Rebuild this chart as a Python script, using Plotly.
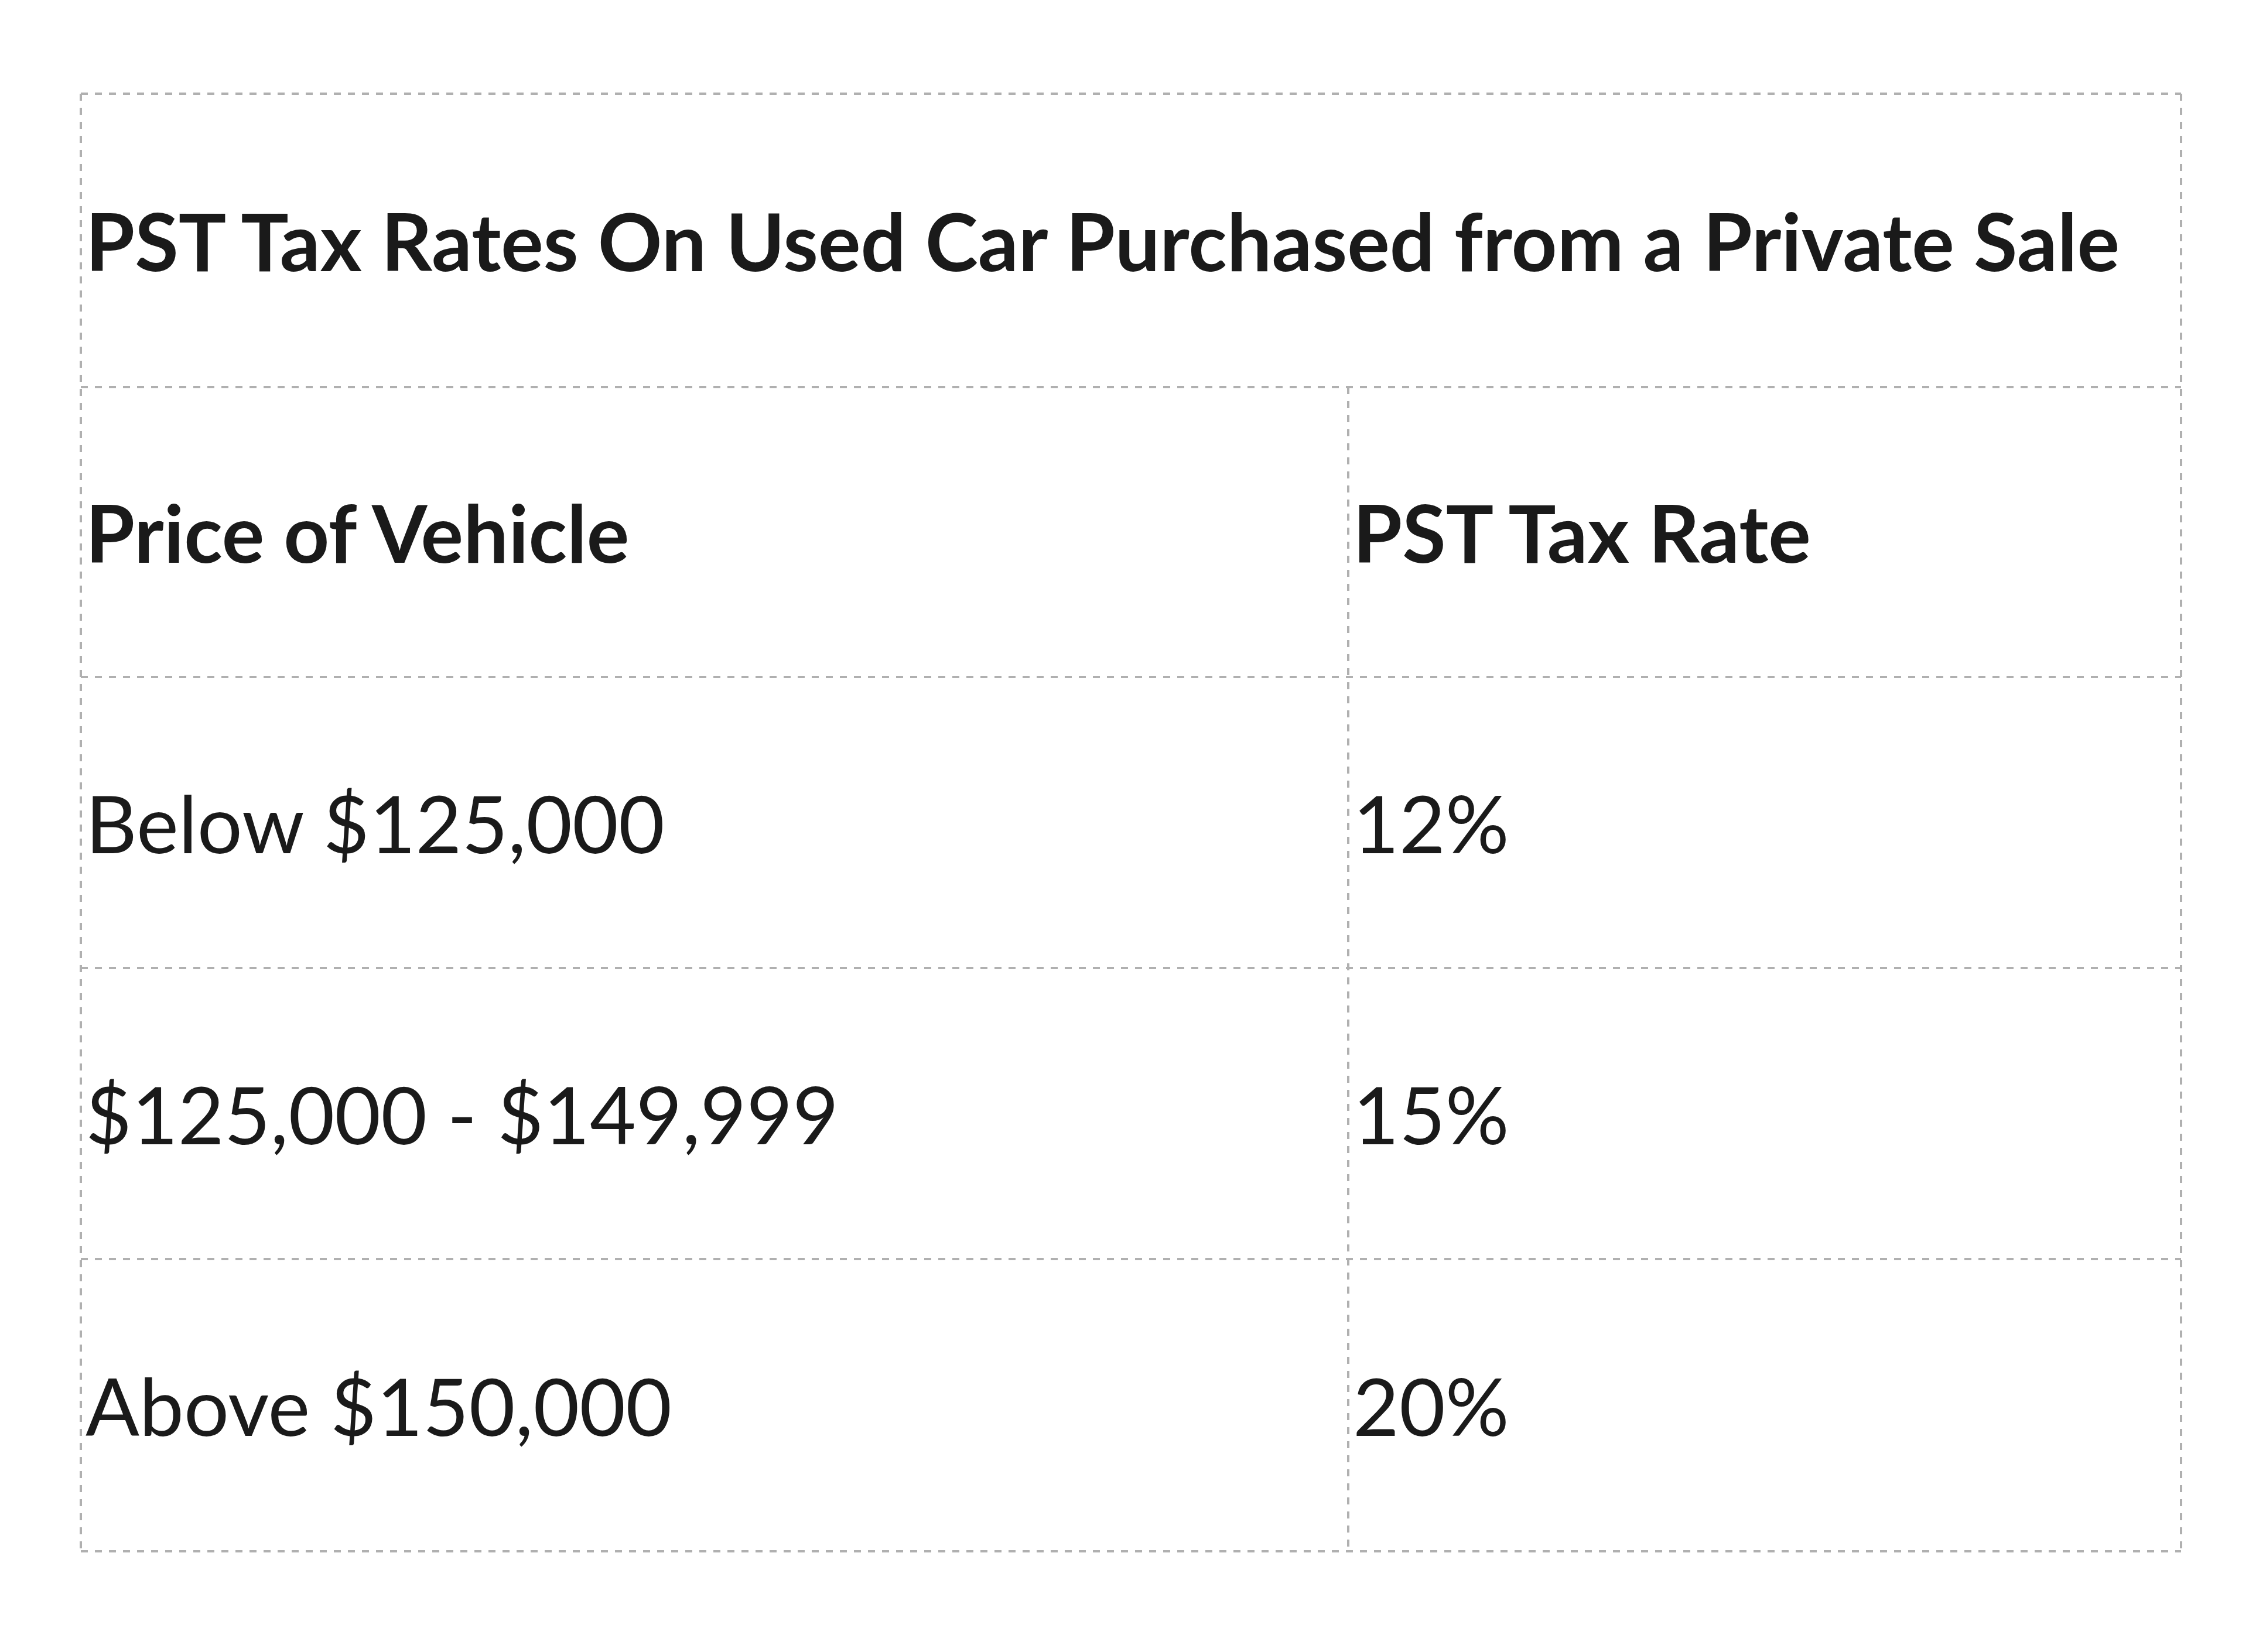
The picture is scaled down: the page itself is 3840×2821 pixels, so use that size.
import plotly.graph_objects as go

title = "PST Tax Rates On Used Car Purchased from a Private Sale"
headers = ["Price of Vehicle", "PST Tax Rate"]
prices = ["Below $125,000", "$125,000 - $149,999", "Above $150,000"]
rates = ["12%", "15%", "20%"]

W, H = 3840, 2821
left, right, split = 130, 3716, 2294
rows_y = [152, 653, 1148, 1645, 2142, 2641]

fig = go.Figure()
line = dict(color="#b0b0b0", width=4, dash="dash")
for y in rows_y:
    fig.add_shape(type="line", x0=left, x1=right, y0=y, y1=y, line=line)
fig.add_shape(type="line", x0=left, x1=left, y0=rows_y[0], y1=rows_y[-1], line=line)
fig.add_shape(type="line", x0=right, x1=right, y0=rows_y[0], y1=rows_y[-1], line=line)
fig.add_shape(type="line", x0=split, x1=split, y0=rows_y[1], y1=rows_y[-1], line=line)

def txt(x, y, s, bold=False):
    fig.add_annotation(x=x, y=y, text=f"<b>{s}</b>" if bold else s, showarrow=False,
                       xanchor="left", yanchor="middle",
                       font=dict(family="Lato", size=136, color="#1a1a1a"))

mid = lambda i: (rows_y[i] + rows_y[i + 1]) / 2
txt(136, mid(0), title, True)
txt(136, mid(1), headers[0], True)
txt(2300, mid(1), headers[1], True)
for i, (p, r) in enumerate(zip(prices, rates)):
    txt(136, mid(i + 2), p)
    txt(2300, mid(i + 2), r)

fig.update_layout(width=W, height=H, margin=dict(l=0, r=0, t=0, b=0),
                  plot_bgcolor="white", paper_bgcolor="white",
                  xaxis=dict(range=[0, W], visible=False, fixedrange=True),
                  yaxis=dict(range=[H, 0], visible=False, fixedrange=True),
                  showlegend=False)
fig.write_html("out.html")
